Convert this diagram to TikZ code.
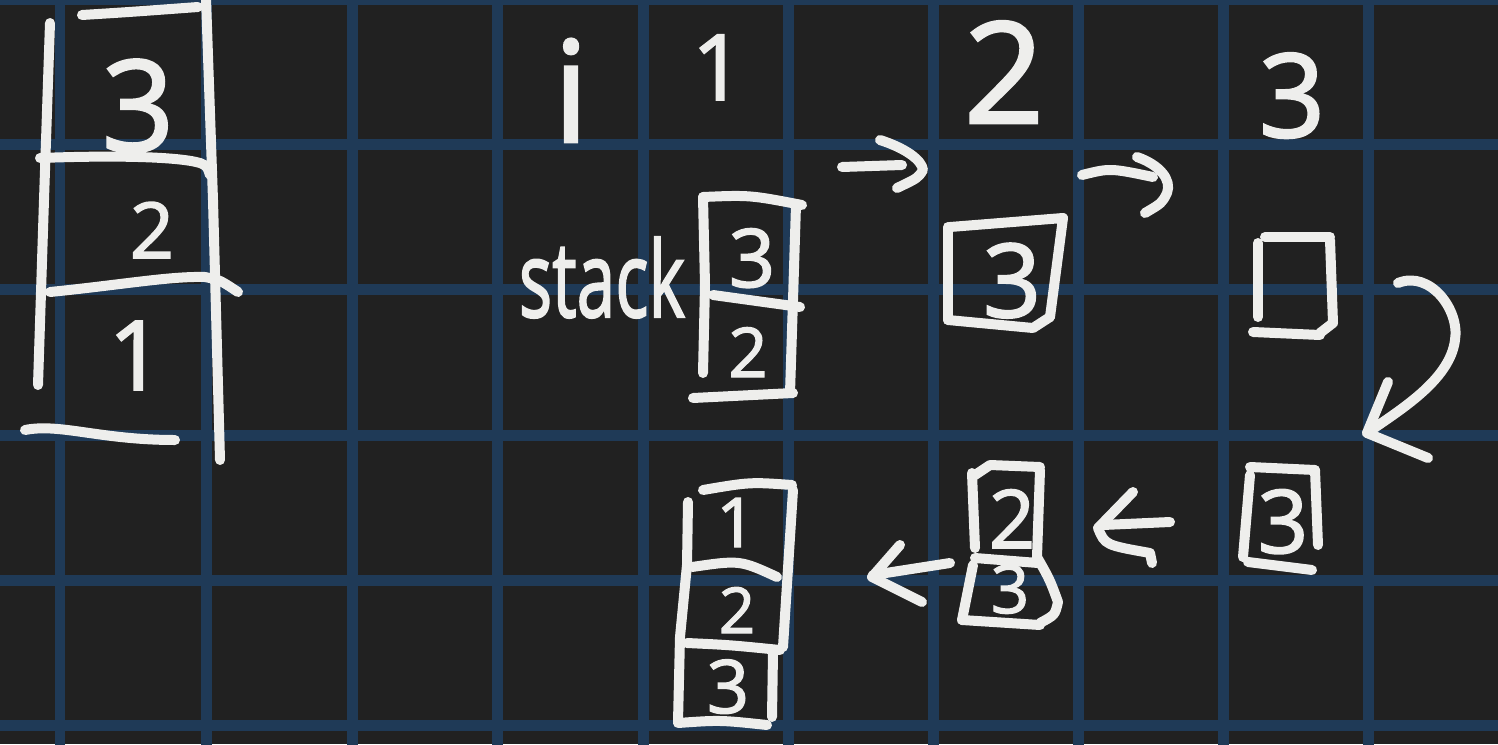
\documentclass[tikz,border=0pt]{standalone}
\usepackage{fontspec}
\setmainfont{Open Sans}[FakeBold=2]
\definecolor{bgc}{HTML}{212121}
\definecolor{gridc}{HTML}{1F3A57}
\definecolor{inkc}{HTML}{EEEEEC}
\begin{document}
\begin{tikzpicture}[x=0.02cm,y=-0.02cm,
  ink/.style={draw=inkc,line width=0.2cm,line cap=round,line join=round},
  gridline/.style={draw=gridc,line width=0.22cm},
  hand/.style={text=inkc,inner sep=0pt,anchor=base}]
\useasboundingbox (0,0) rectangle (1498,744);
\fill[bgc] (0,0) rectangle (1498,744);
% grid
\begin{scope}
\clip (0,0) rectangle (1498,744);
\foreach \gx in {60,206,352,497,643,788,933,1078,1223,1368}
  \draw[gridline] (\gx,-10) -- (\gx,760);
\foreach \gy in {-1,144,289,435,580,725}
  \draw[gridline] (-10,\gy) -- (1510,\gy);
\end{scope}

% ---------- left stack ----------
\draw[ink] (50,23) -- (44,200) -- (38,385);
\draw[ink] (82,15) .. controls (130,12) .. (198,7);
\draw[ink] (206,-2) -- (213,200) -- (220,460);
\draw[ink] (40,158) .. controls (120,155) and (180,157) .. (200,163) .. controls (207,166) .. (210,175);
\draw[ink] (50,292) .. controls (120,285) and (170,276) .. (205,277) .. controls (220,280) .. (238,292);
\draw[ink] (25,430) .. controls (60,423) and (100,440) .. (175,440);
\node[hand,font=\fontsize{72}{72}\selectfont] (l3) at (138,151) {3};
\node[hand,font=\fontsize{44}{44}\selectfont] (l2) at (152,258) {2};
\node[hand,font=\fontsize{55}{55}\selectfont] (l1) at (136,390) {1};

% ---------- header ----------
\node[hand,font=\fontsize{80}{80}\selectfont] (hi) at (571,142) {i};
\node[hand,font=\fontsize{52}{52}\selectfont] (h1) at (718,100) {1};
\node[hand,font=\fontsize{80}{80}\selectfont] (h2) at (1004,123) {2};
\node[hand,font=\fontsize{66}{66}\selectfont] (h3) at (1292,137) {3};

% ---------- stack box (step 1) ----------
\node[hand,font=\fontsize{60}{60}\selectfont,xscale=0.66] (stk) at (602,317) {stack};
\draw[ink] (703,197) .. controls (750,195) .. (802,205);
\draw[ink] (703,197) -- (705,285) -- (703,373);
\draw[ink] (796,205) -- (793,300) -- (790,393);
\draw[ink] (713,295) -- (800,307);
\draw[ink] (693,398) -- (793,393);
\node[hand,font=\fontsize{46}{46}\selectfont] (s3) at (752,287) {3};
\node[hand,font=\fontsize{39}{39}\selectfont] (s2) at (748,377) {2};

% arrow 1
\coordinate (a1s) at (842,167);
\coordinate (a1e) at (902,165);
\draw[ink] (a1s) -- (a1e);
\draw[ink] (880,140) .. controls (905,148) and (922,160) .. (923,170) .. controls (918,178) .. (897,188);

% ---------- box 3 (step 2) ----------
\draw[ink] (950,227) -- (1063,218) -- (1050,317);
\draw[ink] (948,227) -- (948,320);
\draw[ink] (948,320) -- (1033,328) -- (1050,317);
\node[hand,font=\fontsize{58}{58}\selectfont] (b3) at (1012,317) {3};

% arrow 2
\coordinate (a2s) at (1082,175);
\coordinate (a2e) at (1153,177);
\draw[ink] (a2s) .. controls (1110,168) .. (a2e);
\draw[ink] (1137,157) .. controls (1160,165) and (1172,180) .. (1167,193) .. controls (1162,203) .. (1145,213);

% ---------- empty box (step 3) ----------
\draw[ink] (1265,237) -- (1330,237);
\draw[ink] (1258,243) -- (1258,317);
\draw[ink] (1330,240) -- (1333,323) -- (1320,333);
\draw[ink] (1253,332) -- (1320,335);

% curved arrow
\coordinate (a3s) at (1398,283);
\coordinate (a3e) at (1367,433);
\draw[ink] (a3s) .. controls (1430,270) and (1460,310) .. (1455,340) .. controls (1450,380) and (1400,410) .. (a3e);
\draw[ink] (1388,382) -- (a3e) -- (1428,458);

% ---------- lower right box ----------
\draw[ink] (1250,467) -- (1315,470);
\draw[ink] (1250,475) -- (1243,557);
\draw[ink] (1315,470) -- (1318,545);
\draw[ink] (1248,562) -- (1312,570);
\node[hand,font=\fontsize{50}{50}\selectfont] (r3) at (1283,553) {3};

% arrow 3
\coordinate (a4s) at (1170,522);
\coordinate (a4e) at (1103,525);
\draw[ink] (a4s) -- (a4e);
\draw[ink] (1133,492) -- (1098,528) .. controls (1105,545) .. (1150,553) -- (1152,563);

% ---------- middle stack (row 3) ----------
\draw[ink] (975,475) -- (990,465) -- (1040,467);
\draw[ink] (972,473) -- (975,548);
\draw[ink] (1040,470) -- (1037,557) .. controls (1050,580) .. (1058,602) .. controls (1055,615) .. (1040,623);
\draw[ink] (975,558) -- (1038,563);
\draw[ink] (973,565) -- (962,620);
\draw[ink] (962,620) -- (1040,625);
\node[hand,font=\fontsize{46}{46}\selectfont] (m2) at (1012,548) {2};
\node[hand,font=\fontsize{38}{38}\selectfont] (m3) at (1010,613) {3};

% arrow 4
\coordinate (a5s) at (950,563);
\coordinate (a5e) at (873,575);
\draw[ink] (a5s) -- (a5e);
\draw[ink] (900,545) -- (872,577) -- (922,602);

% ---------- bottom stack ----------
\draw[ink] (703,490) .. controls (750,482) .. (792,485);
\draw[ink] (688,502) -- (687,565) -- (680,637) -- (678,722);
\draw[ink] (793,490) -- (783,647);
\draw[ink] (773,653) -- (772,717);
\draw[ink] (692,567) .. controls (740,560) .. (777,577);
\draw[ink] (687,643) .. controls (730,645) .. (780,650);
\draw[ink] (678,723) .. controls (720,720) .. (767,725);
\node[hand,font=\fontsize{39}{39}\selectfont] (q1) at (736,547) {1};
\node[hand,font=\fontsize{36}{36}\selectfont] (q2) at (737,633) {2};
\node[hand,font=\fontsize{42}{42}\selectfont] (q3) at (728,713) {3};
\end{tikzpicture}
\end{document}
